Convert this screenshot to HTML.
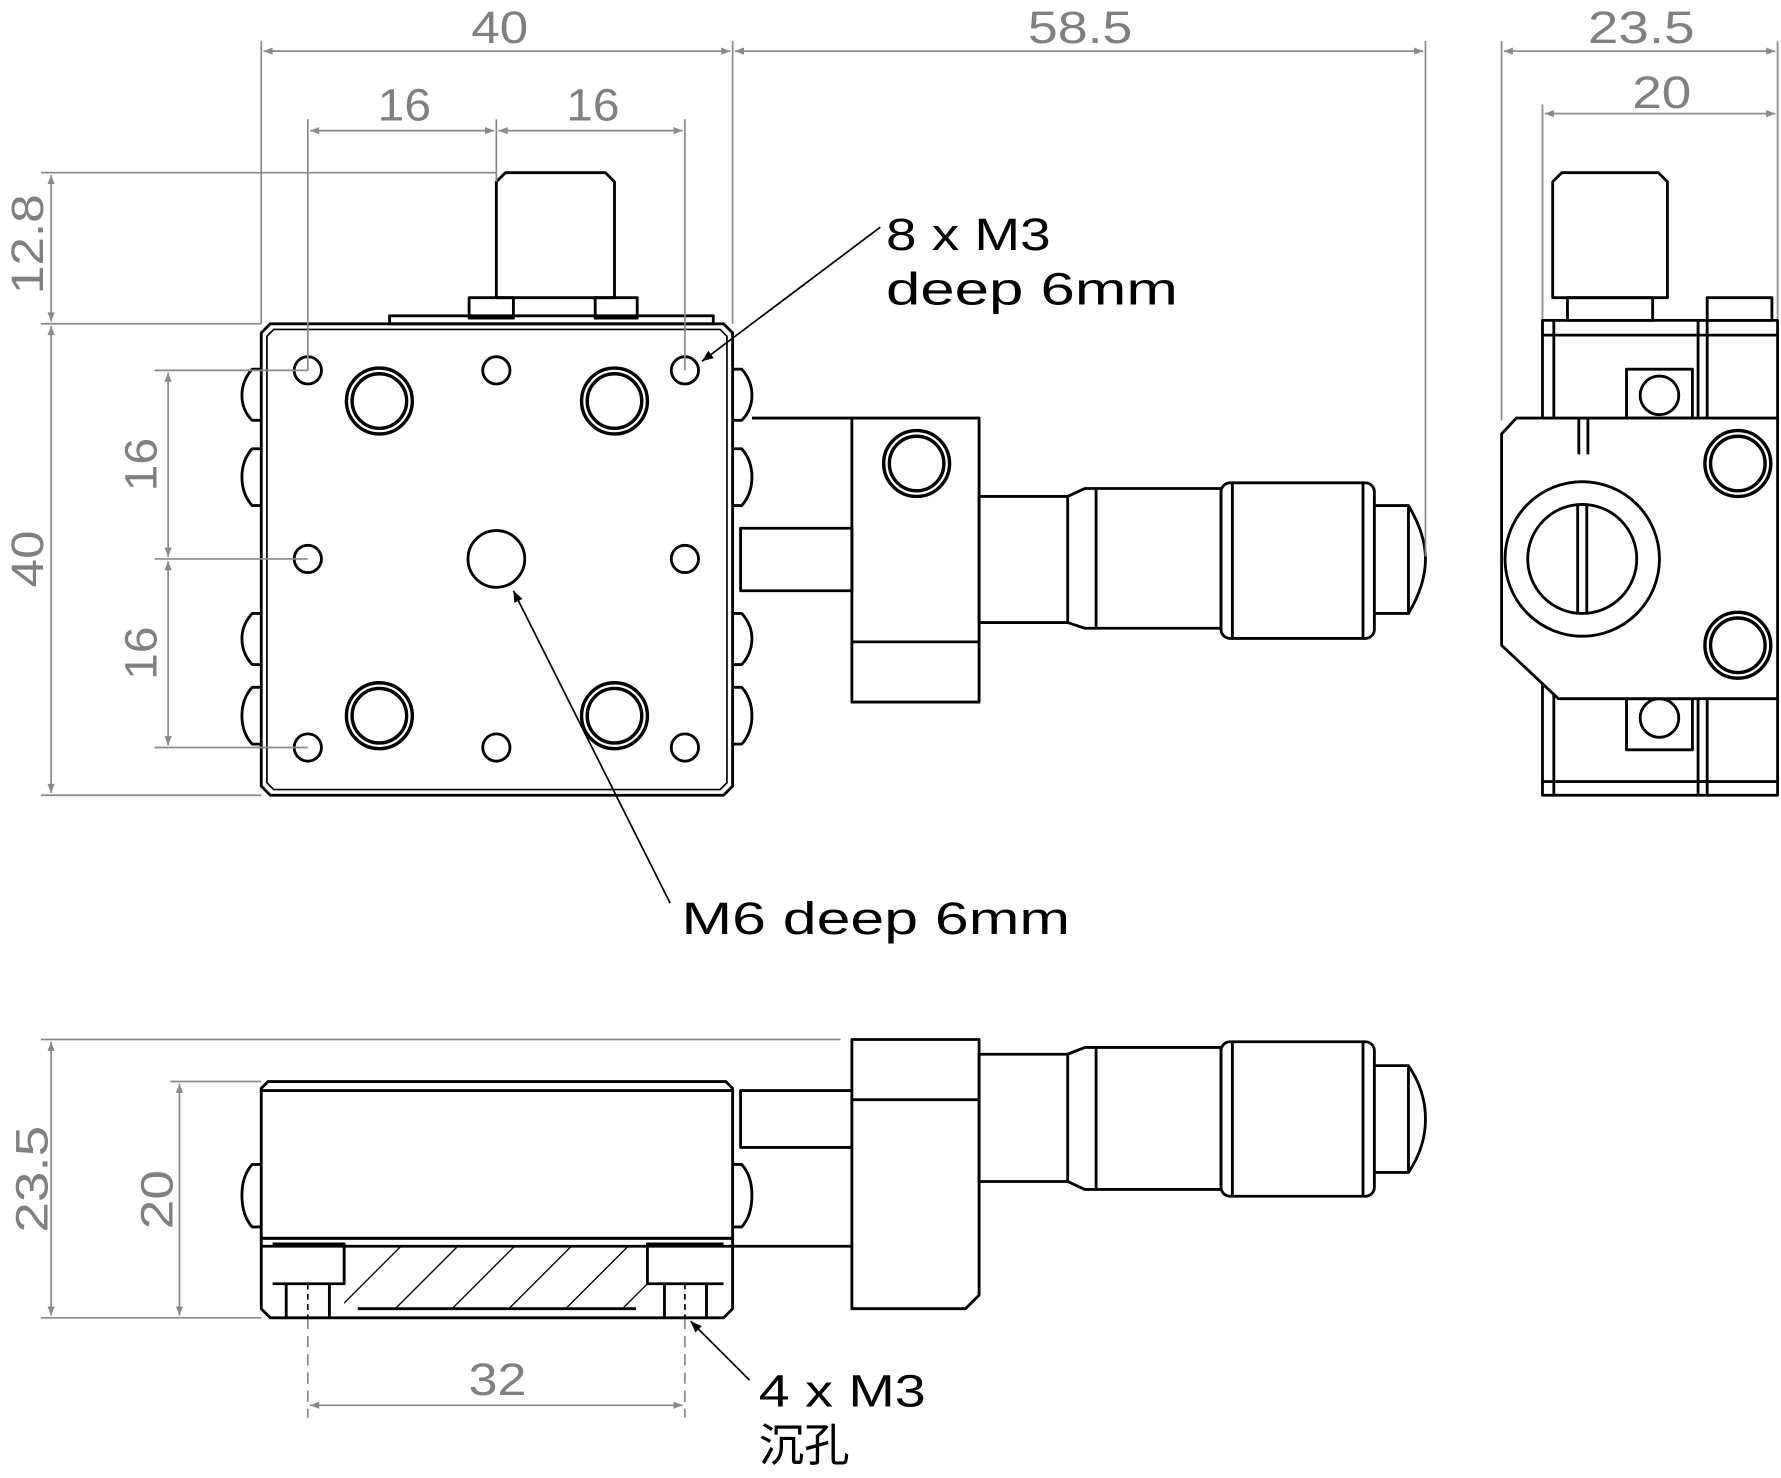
<!DOCTYPE html>
<html><head><meta charset="utf-8"><style>
html,body{margin:0;padding:0;background:#fff;}
svg{display:block}
.o{fill:none;stroke:#000;stroke-width:2.5;stroke-linejoin:round}
.t{fill:none;stroke:#000;stroke-width:1.5}
.d{fill:none;stroke:#8a8a8a;stroke-width:1.5}
.dt{fill:#808080;font-family:"Liberation Sans",sans-serif;font-size:40px;text-anchor:middle}
.lb{fill:#000;font-family:"Liberation Sans","Noto Sans CJK SC",sans-serif;font-size:40px}
.h{stroke:#000;stroke-width:1.2}
</style></head><body>
<svg width="1781" height="1478" viewBox="0 0 1568 1301" preserveAspectRatio="none" xmlns="http://www.w3.org/2000/svg">
<defs>
<marker id="a" viewBox="0 0 10 10" refX="10" refY="5" markerWidth="16" markerHeight="8" orient="auto-start-reverse" markerUnits="userSpaceOnUse"><path d="M0,1 L10,5 L0,9z" fill="#8a8a8a"/></marker>
<marker id="b" viewBox="0 0 10 10" refX="10" refY="5" markerWidth="18" markerHeight="10" orient="auto" markerUnits="userSpaceOnUse"><path d="M0,1 L10,5 L0,9z" fill="#000"/></marker>
</defs>

<!-- ===== TOP VIEW ===== -->
<path class="o" d="M437,262 V160 L445,152 H533 L541,160 V262 Z"/>
<rect class="o" x="413" y="262" width="39" height="18"/>
<rect class="o" x="524" y="262" width="37" height="18"/>
<rect class="o" x="343" y="278" width="285" height="7"/>
<path class="o" d="M238,285 H637 L645,293 V692 L637,700 H238 L230,692 V293Z"/>
<path class="t" d="M241,290 H634 L640,296 V689 L634,695 H241 L235,689 V296Z"/>
<g class="o">
<path d="M230,325 H222 Q213,335 213,348 Q213,361 222,370 H230"/>
<path d="M230,395 H222 Q213,405 213,420 Q213,435 222,445 H230"/>
<path d="M230,540 H222 Q213,550 213,562 Q213,575 222,585 H230"/>
<path d="M230,605 H222 Q213,615 213,630 Q213,645 222,655 H230"/>
<path d="M645,325 H653 Q662,335 662,348 Q662,361 653,370 H645"/>
<path d="M645,395 H653 Q662,405 662,420 Q662,435 653,445 H645"/>
<path d="M645,540 H653 Q662,550 662,562 Q662,575 653,585 H645"/>
<path d="M645,605 H653 Q662,615 662,630 Q662,645 653,655 H645"/>
</g>
<g class="o">
<circle cx="271" cy="326" r="12"/><circle cx="437" cy="326" r="12"/><circle cx="603" cy="326" r="12"/>
<circle cx="271" cy="492" r="12"/><circle cx="603" cy="492" r="12"/>
<circle cx="271" cy="658" r="12"/><circle cx="437" cy="658" r="12"/><circle cx="603" cy="658" r="12"/>
<circle cx="437" cy="492" r="25"/>
</g>
<g class="o" style="stroke-width:3">
<circle cx="334" cy="353" r="29"/><circle cx="334" cy="353" r="24"/>
<circle cx="541" cy="353" r="29"/><circle cx="541" cy="353" r="24"/>
<circle cx="334" cy="630" r="29"/><circle cx="334" cy="630" r="24"/>
<circle cx="541" cy="630" r="29"/><circle cx="541" cy="630" r="24"/>
</g>
<g class="o">
<path d="M662,368 H862 V618 H750 V368"/>
<line x1="750" y1="565" x2="862" y2="565"/>
<rect x="652" y="465" width="98" height="55"/>
</g>
<g class="o" style="stroke-width:3"><circle cx="807" cy="408" r="29"/><circle cx="807" cy="408" r="24"/></g>
<g class="o">
<rect x="862" y="437" width="78" height="111"/>
<path d="M940,437 L955,430 H1075 V553 H955 L940,548"/>
<line x1="965" y1="430" x2="965" y2="553"/>
<rect x="1075" y="425" width="135" height="137" rx="8"/>
<line x1="1085" y1="425" x2="1085" y2="562"/><line x1="1200" y1="425" x2="1200" y2="562"/>
<path d="M1210,445 H1240 Q1255,470 1255,492 Q1255,515 1240,540 H1210"/>
<line x1="1240" y1="445" x2="1240" y2="540"/>
</g>

<g class="d">
<line x1="230" y1="36" x2="230" y2="285"/><line x1="645" y1="36" x2="645" y2="285"/>
<line x1="1255" y1="36" x2="1255" y2="490"/>
<line x1="232" y1="45" x2="643" y2="45" marker-start="url(#a)" marker-end="url(#a)"/>
<line x1="647" y1="45" x2="1253" y2="45" marker-start="url(#a)" marker-end="url(#a)"/>
<line x1="271" y1="105" x2="271" y2="326"/><line x1="437" y1="105" x2="437" y2="160"/><line x1="603" y1="105" x2="603" y2="326"/>
<line x1="273" y1="115" x2="435" y2="115" marker-start="url(#a)" marker-end="url(#a)"/>
<line x1="439" y1="115" x2="601" y2="115" marker-start="url(#a)" marker-end="url(#a)"/>
<line x1="36" y1="152" x2="437" y2="152"/><line x1="36" y1="285" x2="230" y2="285"/><line x1="36" y1="700" x2="230" y2="700"/>
<line x1="45" y1="154" x2="45" y2="283" marker-start="url(#a)" marker-end="url(#a)"/>
<line x1="45" y1="287" x2="45" y2="698" marker-start="url(#a)" marker-end="url(#a)"/>
<line x1="136" y1="326" x2="271" y2="326"/><line x1="136" y1="492" x2="271" y2="492"/><line x1="136" y1="658" x2="271" y2="658"/>
<line x1="148" y1="328" x2="148" y2="490" marker-start="url(#a)" marker-end="url(#a)"/>
<line x1="148" y1="494" x2="148" y2="656" marker-start="url(#a)" marker-end="url(#a)"/>
</g>
<text class="dt" x="440" y="38" textLength="50" lengthAdjust="spacingAndGlyphs">40</text>
<text class="dt" x="951" y="38" textLength="92" lengthAdjust="spacingAndGlyphs">58.5</text>
<text class="dt" x="356" y="106" textLength="47" lengthAdjust="spacingAndGlyphs">16</text>
<text class="dt" x="522" y="106" textLength="47" lengthAdjust="spacingAndGlyphs">16</text>
<text class="dt" transform="translate(38,215) rotate(-90)" textLength="88" lengthAdjust="spacingAndGlyphs">12.8</text>
<text class="dt" transform="translate(38,492) rotate(-90)" textLength="50" lengthAdjust="spacingAndGlyphs">40</text>
<text class="dt" transform="translate(138,409) rotate(-90)" textLength="47" lengthAdjust="spacingAndGlyphs">16</text>
<text class="dt" transform="translate(138,575) rotate(-90)" textLength="47" lengthAdjust="spacingAndGlyphs">16</text>

<line x1="775" y1="200" x2="618" y2="318" stroke="#000" stroke-width="1.5" marker-end="url(#b)"/>
<text class="lb" x="780" y="220" textLength="145" lengthAdjust="spacingAndGlyphs">8 x M3</text>
<text class="lb" x="780" y="268" textLength="257" lengthAdjust="spacingAndGlyphs">deep 6mm</text>
<line x1="590" y1="795" x2="452" y2="520" stroke="#000" stroke-width="1.5" marker-end="url(#b)"/>
<text class="lb" x="600" y="822" textLength="342" lengthAdjust="spacingAndGlyphs">M6 deep 6mm</text>

<!-- ===== SIDE VIEW ===== -->
<g class="d">
<line x1="1322" y1="36" x2="1322" y2="370"/><line x1="1565" y1="36" x2="1565" y2="285"/>
<line x1="1358" y1="92" x2="1358" y2="285"/>
<line x1="1324" y1="45" x2="1563" y2="45" marker-start="url(#a)" marker-end="url(#a)"/>
<line x1="1360" y1="100" x2="1563" y2="100" marker-start="url(#a)" marker-end="url(#a)"/>
</g>
<text class="dt" x="1445" y="38" textLength="94" lengthAdjust="spacingAndGlyphs">23.5</text>
<text class="dt" x="1463" y="95" textLength="52" lengthAdjust="spacingAndGlyphs">20</text>
<g class="o">
<path d="M1367,262 V160 L1375,152 H1460 L1468,160 V262 Z"/>
<rect x="1380" y="262" width="75" height="20"/>
<rect x="1503" y="262" width="57" height="20"/>
<rect x="1358" y="282" width="207" height="418"/>
<line x1="1368" y1="282" x2="1368" y2="700"/>
<line x1="1495" y1="282" x2="1495" y2="700"/><line x1="1503" y1="282" x2="1503" y2="700"/>
<line x1="1358" y1="295" x2="1565" y2="295"/><line x1="1358" y1="688" x2="1565" y2="688"/>
<rect x="1432" y="325" width="58" height="43"/><circle cx="1461" cy="348" r="17"/>
<rect x="1432" y="615" width="58" height="45"/><circle cx="1461" cy="632" r="17"/>
<path d="M1335,368 H1565 V615 H1372 L1322,568 V382 Z" fill="#fff"/>
<path d="M1390,368 V400 M1398,368 V400"/>
<circle cx="1393" cy="492" r="68"/><circle cx="1393" cy="492" r="48"/>
<path d="M1389,444 V540 M1397,444 V540"/>
</g>
<g class="o" style="stroke-width:3">
<circle cx="1530" cy="408" r="29"/><circle cx="1530" cy="408" r="24"/>
<circle cx="1530" cy="568" r="29"/><circle cx="1530" cy="568" r="24"/>
</g>

<!-- ===== BOTTOM VIEW ===== -->
<g class="d">
<line x1="36" y1="915" x2="740" y2="915"/><line x1="36" y1="1160" x2="230" y2="1160"/>
<line x1="150" y1="952" x2="230" y2="952"/>
<line x1="45" y1="917" x2="45" y2="1158" marker-start="url(#a)" marker-end="url(#a)"/>
<line x1="158" y1="954" x2="158" y2="1158" marker-start="url(#a)" marker-end="url(#a)"/>
<line x1="271" y1="1160" x2="271" y2="1248" stroke-dasharray="10,6"/><line x1="603" y1="1160" x2="603" y2="1248" stroke-dasharray="10,6"/>
<line x1="273" y1="1237" x2="601" y2="1237" marker-start="url(#a)" marker-end="url(#a)"/>
</g>
<text class="dt" transform="translate(42,1038) rotate(-90)" textLength="94" lengthAdjust="spacingAndGlyphs">23.5</text>
<text class="dt" transform="translate(152,1056) rotate(-90)" textLength="52" lengthAdjust="spacingAndGlyphs">20</text>
<text class="dt" x="438" y="1228" textLength="51" lengthAdjust="spacingAndGlyphs">32</text>

<g class="o">
<path d="M230,1025 H222 Q213,1035 213,1052 Q213,1070 222,1080 H230"/>
<path d="M645,1025 H653 Q662,1035 662,1052 Q662,1070 653,1080 H645"/>
<path d="M236,952 H639 L645,958 V1090 H230 V958 Z"/>
<line x1="230" y1="960" x2="645" y2="960"/>
<path d="M230,1090 H645 V1152 L637,1160 H238 L230,1152 Z"/>
<line x1="230" y1="1097" x2="645" y2="1097"/>
<path d="M240,1095 H303 V1130 H240"/><path d="M637,1095 H570 V1130 H637"/>
<path d="M252,1130 V1160 M290,1130 V1160 M585,1130 V1160 M622,1130 V1160"/>
</g>
<line x1="271" y1="1130" x2="271" y2="1160" class="t" stroke-dasharray="5,4"/>
<line x1="603" y1="1130" x2="603" y2="1160" class="t" stroke-dasharray="5,4"/>
<clipPath id="hc"><rect x="303" y="1097" width="267" height="55"/></clipPath>
<g clip-path="url(#hc)">
<g class="h">
<line x1="290" y1="1160" x2="360" y2="1090"/><line x1="340" y1="1160" x2="410" y2="1090"/>
<line x1="390" y1="1160" x2="460" y2="1090"/><line x1="440" y1="1160" x2="510" y2="1090"/>
<line x1="490" y1="1160" x2="560" y2="1090"/><line x1="540" y1="1160" x2="610" y2="1090"/>
</g></g>
<line class="o" x1="315" y1="1152" x2="560" y2="1152"/>
<g class="o">
<rect x="652" y="960" width="98" height="50"/>
<path d="M750,915 H862 V1140 L850,1152 H750 V915 Z" fill="#fff"/>
<line x1="750" y1="968" x2="862" y2="968"/>
<line x1="750" y1="1097" x2="645" y2="1097"/>
<rect x="862" y="928" width="78" height="112"/>
<path d="M940,928 L955,922 H1075 V1047 H955 L940,1040"/>
<line x1="965" y1="922" x2="965" y2="1047"/>
<rect x="1075" y="917" width="135" height="136" rx="8"/>
<line x1="1085" y1="917" x2="1085" y2="1053"/><line x1="1200" y1="917" x2="1200" y2="1053"/>
<path d="M1210,938 H1240 Q1255,960 1255,985 Q1255,1010 1240,1032 H1210"/>
<line x1="1240" y1="938" x2="1240" y2="1032"/>
</g>
<line x1="660" y1="1215" x2="608" y2="1163" stroke="#000" stroke-width="1.5" marker-end="url(#b)"/>
<text class="lb" x="668" y="1238" textLength="147" lengthAdjust="spacingAndGlyphs">4 x M3</text>
<text class="lb" x="668" y="1286">沉孔</text>
</svg>
</body></html>
